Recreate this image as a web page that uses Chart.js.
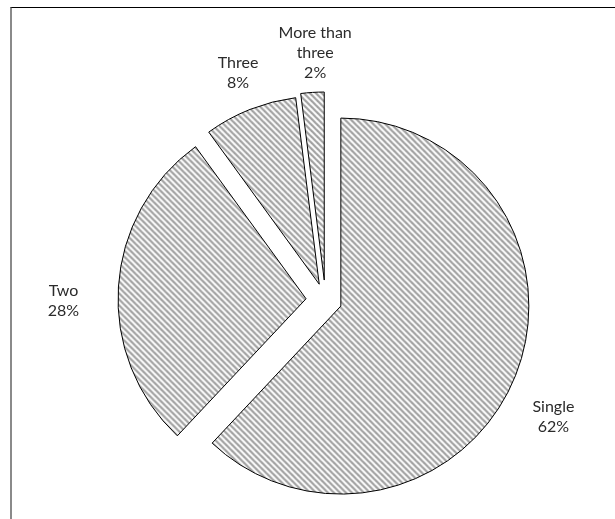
<!DOCTYPE html>
<html>
<head>
<meta charset="utf-8">
<script src="https://cdn.jsdelivr.net/npm/chart.js@4.4.1/dist/chart.umd.min.js"></script>
<style>
  html, body { margin: 0; padding: 0; background: #fff; overflow: hidden; }
  #wrap { position: relative; width: 615px; height: 519px; }
  #frame {
    position: absolute; left: 10px; top: 7px; width: 700px; height: 600px;
    border-top: 1px solid #000; border-left: 2px solid #8a8a8a;
    pointer-events: none;
  }
</style>
</head>
<body>
<div id="wrap">
  <canvas id="pie" width="615" height="519"></canvas>
  <div id="frame"></div>
</div>
<script>
// number of items per case, share in percent
const categories = ['Single', 'Two', 'Three', 'More than three'];
const shares = [62, 28, 8, 2];

// how far (px) each slice is pulled out of the pie
const explode = [16.5, 19.5, 17, 20];

// hatched fill, grey diagonal stripes like the excel pattern
function makeHatch() {
    const size = 6;
    const tile = document.createElement('canvas');
    tile.width = size;
    tile.height = size;
    const t = tile.getContext('2d');
    t.fillStyle = '#fff';
    t.fillRect(0, 0, size, size);
    t.strokeStyle = '#a0a0a0';
    t.lineWidth = 2.2;
    for (let c = -size; c <= size; c += size) {
        t.beginPath();
        t.moveTo(-1, -1 + c);
        t.lineTo(size + 1, size + 1 + c);
        t.stroke();
    }
    return t.createPattern(tile, 'repeat');
}

// split a label over lines that fit into maxWidth
function wrapText(ctx, text, maxWidth) {
    const words = text.split(' ');
    const lines = [];
    let line = '';
    words.forEach(w => {
        const test = line ? line + ' ' + w : w;
        if (line && ctx.measureText(test).width > maxWidth) {
            lines.push(line);
            line = w;
        } else {
            line = test;
        }
    });
    if (line) lines.push(line);
    return lines;
}

// draw the arcs ourselves, each one shifted out along its bisector
// (the built-in offset also grows the radius, which we don't want here)
const explodedSlices = {
    id: 'explodedSlices',
    beforeDatasetDraw(chart, args) {
        const ctx = chart.ctx;
        args.meta.data.forEach((arc, i) => {
            const mid = (arc.startAngle + arc.endAngle) / 2;
            const d = explode[i] || 0;
            ctx.save();
            ctx.translate(Math.cos(mid) * d, Math.sin(mid) * d);
            arc.draw(ctx);
            ctx.restore();
        });
        return false;
    }
};

// category name + percent outside each slice
const sliceLabels = {
    id: 'sliceLabels',
    afterDatasetsDraw(chart, args, opts) {
        const ctx = chart.ctx;
        const meta = chart.getDatasetMeta(0);
        const values = chart.data.datasets[0].data;
        const total = values.reduce((a, b) => a + b, 0);
        ctx.save();
        ctx.font = opts.font;
        ctx.fillStyle = opts.color;
        ctx.textAlign = 'center';
        ctx.textBaseline = 'middle';
        meta.data.forEach((arc, i) => {
            const p = opts.place[i];
            const mid = (arc.startAngle + arc.endAngle) / 2 + p.turn * Math.PI / 180;
            const x = arc.x + Math.cos(mid) * p.dist;
            const y = arc.y + Math.sin(mid) * p.dist;
            const lines = wrapText(ctx, chart.data.labels[i], opts.maxWidth);
            lines.push(Math.round(values[i] / total * 100) + '%');
            const top = y - (lines.length - 1) * opts.lineHeight / 2;
            lines.forEach((txt, k) => ctx.fillText(txt, x, top + k * opts.lineHeight));
        });
        ctx.restore();
    }
};

const hatch = makeHatch();

new Chart(document.getElementById('pie'), {
    type: 'pie',
    data: {
        labels: categories,
        datasets: [{
            data: shares,
            backgroundColor: hatch,
            borderColor: '#000',
            borderWidth: 1,
            borderJoinStyle: 'miter'
        }]
    },
    options: {
        responsive: false,
        animation: false,
        devicePixelRatio: 1,
        radius: 188,
        layout: { padding: { left: 36, right: 0, top: 81, bottom: 0 } },
        plugins: {
            legend: { display: false },
            tooltip: { enabled: false },
            sliceLabels: {
                font: '16px Lato',
                color: '#2b2b2b',
                lineHeight: 20,
                maxWidth: 80,
                place: [
                    { turn: 5.5, dist: 256 },
                    { turn: -3.8, dist: 262 },
                    { turn: 0.5, dist: 243 },
                    { turn: 1.2, dist: 247 }
                ]
            }
        }
    },
    plugins: [explodedSlices, sliceLabels]
});
</script>
</body>
</html>
